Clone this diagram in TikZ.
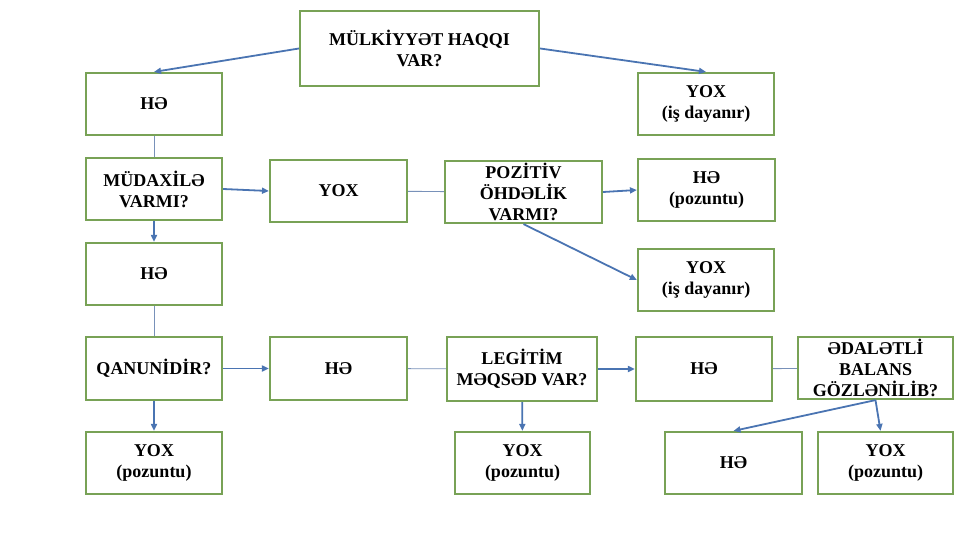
\documentclass[tikz,border=0pt]{standalone}
\usepackage{fontspec}
\setmainfont{Liberation Serif}
\usetikzlibrary{arrows.meta}
\definecolor{boxgreen}{RGB}{120,162,86}
\definecolor{arrowblue}{RGB}{74,116,178}
\definecolor{linkgray}{RGB}{120,145,185}
\tikzstyle{box}=[draw=boxgreen,line width=2.2pt,fill=white,align=center,inner sep=1pt,minimum width=136pt,minimum height=62pt,font=\fontsize{18pt}{21pt}\selectfont\bfseries]
\tikzstyle{go}=[draw=arrowblue,line width=1.8pt,-{Triangle[length=7pt,width=6pt]}]
\tikzstyle{link}=[draw=linkgray,line width=0.9pt]

\begin{document}
\begin{tikzpicture}[x=1pt,y=-1pt]
			\useasboundingbox (0,0) rectangle (960,540);
			\node (q1) at (419.5,48.5) [box,minimum width=239pt,minimum height=75pt] {MÜLKİYYƏT HAQQI\\VAR?};
			\node (he1) at (154,104) [box] {HƏ};
			\node (yox1) at (706,104) [box] {YOX\\(iş dayanır)};
			\node (mud) at (154,189) [box] {MÜDAXİLƏ\\VARMI?};
			\node (yox2) at (338.5,191) [box,minimum width=137pt] {YOX};
			\node (poz) at (523.5,192) [box,minimum width=157pt] {POZİTİV\\ÖHDƏLİK\\VARMI?};
			\node (hepoz) at (706.5,190) [box,minimum width=137pt] {HƏ\\(pozuntu)};
			\node (he2) at (154,274) [box] {HƏ};
			\node (yox3) at (706,280) [box] {YOX\\(iş dayanır)};
			\node (qan) at (154,368.5) [box,minimum height=63pt] {QANUNİDİR?};
			\node (he3) at (338.5,368.5) [box,minimum width=137pt,minimum height=63pt] {HƏ};
			\node (leg) at (522,369) [box,minimum width=150pt,minimum height=64pt] {LEGİTİM\\MƏQSƏD VAR?};
			\node (he4) at (704,369) [box,minimum height=64pt] {HƏ};
			\node (ade) at (875.5,368) [box,minimum width=155pt] {ƏDALƏTLİ\\BALANS\\GÖZLƏNİLİB?};
			\node (yp1) at (154,463) [box] {YOX\\(pozuntu)};
			\node (yp2) at (522.5,463) [box,minimum width=135pt] {YOX\\(pozuntu)};
			\node (he5) at (733.5,463) [box,minimum width=137pt] {HƏ};
			\node (yp3) at (885.5,463) [box,minimum width=135pt] {YOX\\(pozuntu)};
			
			\draw [go] (q1.west) -- (he1.north);
			\draw [go] (q1.east) -- (yox1.north);
			\draw [link] (he1) -- (mud);
			\draw [go] (mud.east) -- (yox2.west);
			\draw [go] (mud) -- (he2);
			\draw [link] (yox2) -- (poz);
			\draw [go] (poz.east) -- (hepoz.west);
			\draw [go] (poz.south) -- (yox3.west);
			
			\draw [link] (he2) -- (qan);
			\draw [go] (qan) -- (he3);
			\draw [go] (qan) -- (yp1);
			\draw [link] (he3) -- (leg);
			\draw [go] (leg) -- (he4);
			\draw [go] (leg) -- (yp2);
			\draw [link] (he4) -- (ade);
			\draw [go] (ade.south) -- (he5.north);
			\draw [go] (ade.south) -- ([xshift=-5pt]yp3.north);
		\end{tikzpicture}
\end{document}
